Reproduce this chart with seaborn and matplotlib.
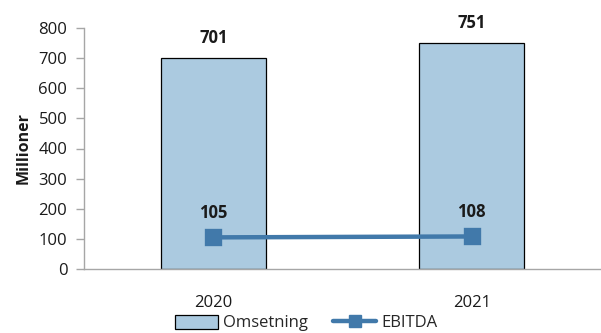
import matplotlib
matplotlib.use("Agg")
import matplotlib.pyplot as plt
import seaborn as sns
import pandas as pd
from matplotlib.patches import Patch
from matplotlib.lines import Line2D

years = ["2020", "2021"]
omsetning = [701, 751]
ebitda = [105, 108]
y_ticks = [0, 100, 200, 300, 400, 500, 600, 700, 800]

bar_color = "#abcae0"
line_color = "#4179aa"
spine_color = "#a6a6a6"
text_color = "#1a1a1a"
fs = 12

sns.set_theme(style="white")
plt.rcParams["font.family"] = ["Open Sans", "DejaVu Sans"]

df = pd.DataFrame({"year": years, "omsetning": omsetning, "ebitda": ebitda})

fig = plt.figure(figsize=(6.01, 3.33), dpi=100)
ax = fig.add_axes([84 / 601, 64 / 333, 517 / 601, 241 / 333])

sns.barplot(data=df, x="year", y="omsetning", color=bar_color, width=0.405,
            edgecolor="black", linewidth=0.9, saturation=1, ax=ax, zorder=2)
sns.pointplot(data=df, x="year", y="ebitda", color=line_color, markers="s",
              markersize=10, linewidth=3.2, errorbar=None, ax=ax)
for coll in ax.collections:
    coll.set_zorder(4)
for ln in ax.lines:
    ln.set_zorder(4)

ax.set_xlim(-0.5, 1.5)
ax.set_ylim(0, 800)
ax.set_yticks(y_ticks)
ax.set_yticklabels([str(v) for v in y_ticks], fontsize=fs, color=text_color)
ax.set_xticks([0, 1])
ax.set_xticklabels(years, fontsize=fs, color=text_color)
ax.tick_params(axis="x", length=0, pad=19)
ax.set_xticks([-0.5, 0.5], minor=True)
ax.tick_params(axis="x", which="minor", length=5, color=spine_color, width=1)
ax.tick_params(axis="y", length=6, color=spine_color, width=1, left=True, pad=6)
ax.set_xlabel("")
ax.set_ylabel("Millioner", fontsize=fs - 0.5, fontweight="bold", color=text_color, labelpad=5)

for side in ["top", "right"]:
    ax.spines[side].set_visible(False)
for side in ["left", "bottom"]:
    ax.spines[side].set_color(spine_color)
    ax.spines[side].set_linewidth(1)

for i, v in enumerate(omsetning):
    ax.annotate(str(v), (i, v), xytext=(0, 8), textcoords="offset points",
                ha="center", va="bottom", fontsize=fs, fontweight="bold", color=text_color)
for i, v in enumerate(ebitda):
    ax.annotate(str(v), (i, v), xytext=(0, 11), textcoords="offset points",
                ha="center", va="bottom", fontsize=fs, fontweight="bold", color=text_color)

handles = [
    Patch(facecolor=bar_color, edgecolor="black", linewidth=0.9, label="Omsetning"),
    Line2D([0], [0], color=line_color, linewidth=3.2, marker="s", markersize=9,
           label="EBITDA"),
]
fig.legend(handles=handles, loc="center", bbox_to_anchor=(306 / 601, 1 - 323 / 333),
           ncol=2, frameon=False, fontsize=fs, handlelength=2.6, handleheight=0.9,
           handletextpad=0.3, columnspacing=1.5, borderaxespad=0)

fig.savefig("out.png", dpi=100)
